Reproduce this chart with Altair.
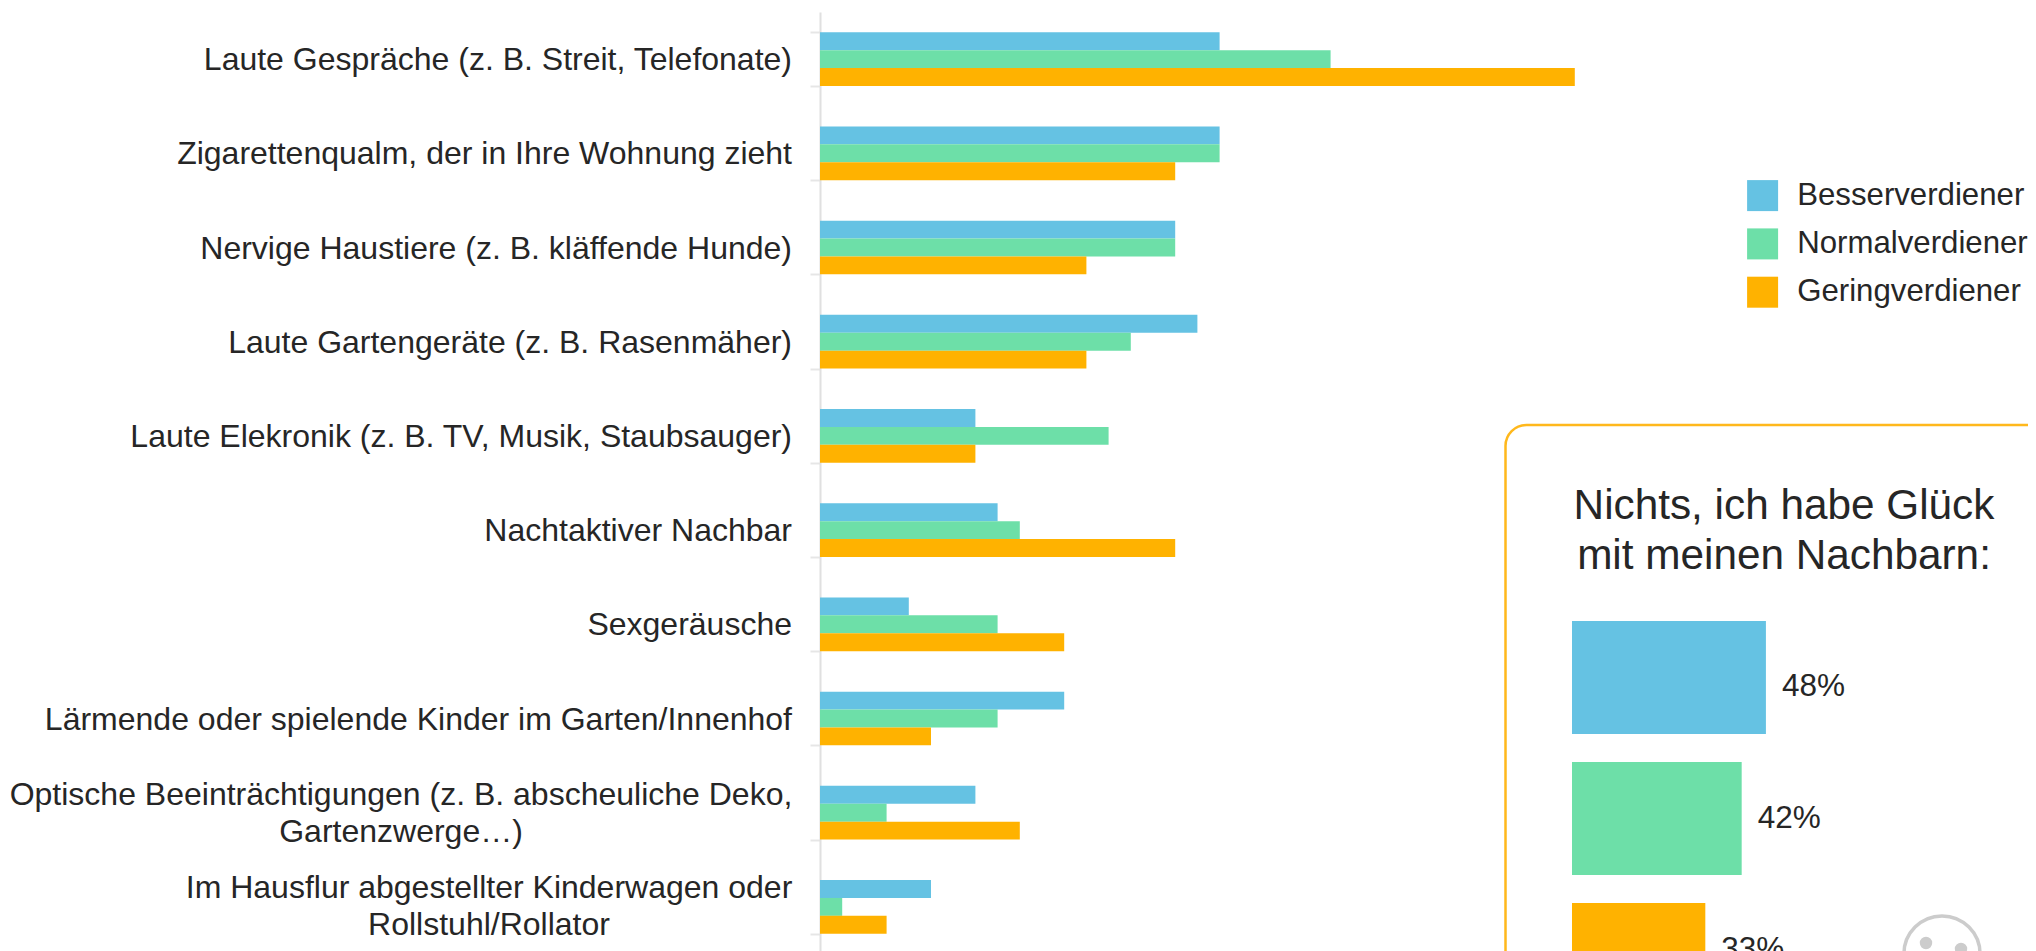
import altair as alt
import pandas as pd

categories = [
    "Laute Gespräche (z. B. Streit, Telefonate)",
    "Zigarettenqualm, der in Ihre Wohnung zieht",
    "Nervige Haustiere (z. B. kläffende Hunde)",
    "Laute Gartengeräte (z. B. Rasenmäher)",
    "Laute Elekronik (z. B. TV, Musik, Staubsauger)",
    "Nachtaktiver Nachbar",
    "Sexgeräusche",
    "Lärmende oder spielende Kinder im Garten/Innenhof",
    "Optische Beeinträchtigungen (z. B. abscheuliche Deko,|Gartenzwerge…)",
    "Im Hausflur abgestellter Kinderwagen oder|Rollstuhl/Rollator",
]
series = ["Besserverdiener", "Normalverdiener", "Geringverdiener"]
besser = [18, 18, 16, 17, 7, 8, 4, 11, 7, 5]
normal = [23, 18, 16, 14, 13, 9, 8, 8, 3, 1]
gering = [34, 16, 12, 12, 7, 16, 11, 5, 9, 3]
inset_values = [48, 42, 33]
inset_title = "Nichts, ich habe Glück|mit meinen Nachbarn:"
colors = ["#65C2E3", "#6DDFA8", "#FFB200"]

FONT = "Liberation Sans"
TEXT = "#262626"
FS = 32

rows = []
for s, vals in zip(series, [besser, normal, gering]):
    for c, v in zip(categories, vals):
        rows.append({"category": c, "series": s, "value": v})
df = pd.DataFrame(rows)
labels_df = pd.DataFrame({"category": categories})
inset_df = pd.DataFrame({"series": series, "value": inset_values,
                         "label": [f"{v}%" for v in inset_values]})

y_scale = alt.Scale(domain=categories, range=[0, 942], paddingInner=0.43, paddingOuter=0.215)
color_enc = alt.Color("series:N", scale=alt.Scale(domain=series, range=colors),
                      sort=series,
                      legend=alt.Legend(title=None, orient="none", legendX=927, legendY=168,
                                        padding=0, symbolType="square", symbolSize=961,
                                        symbolStrokeWidth=0, symbolOpacity=1, labelFont=FONT,
                                        labelFontSize=31.2, labelColor=TEXT, labelOffset=19,
                                        rowPadding=15.3, labelLimit=400, columnPadding=0))

bars = alt.Chart(df).mark_bar().encode(
    x=alt.X("value:Q", scale=alt.Scale(domain=[0, 60], range=[0, 1332]), axis=None),
    y=alt.Y("category:N", sort=categories, scale=y_scale, title=None,
            axis=alt.Axis(labels=False, tickBand="extent", tickSize=10, tickWidth=2,
                          tickColor="#E6E6E6", domainColor="#E0E0E0", domainWidth=2,
                          grid=False, title=None)),
    yOffset=alt.YOffset("series:N", sort=series, scale=alt.Scale(paddingInner=0, paddingOuter=0)),
    color=color_enc,
)


def label_layer(cats, dx, align, dy=0):
    return alt.Chart(labels_df[labels_df.category.isin(cats)]).mark_text(
        align=align, baseline="middle", dx=dx, dy=dy, font=FONT, fontSize=FS, color=TEXT,
        lineBreak="|", lineHeight=37,
    ).encode(
        x=alt.value(0),
        y=alt.Y("category:N", sort=categories, scale=y_scale, axis=None),
        text="category:N",
    )


labels_single = label_layer(categories[:8], -28, "right", 1)
labels_a = label_layer(categories[8:9], -419, "center", -18)
labels_b = label_layer(categories[9:10], -331, "center", -19)

panel = alt.Chart(pd.DataFrame({"a": [0]})).mark_rect(
    fill="white", stroke="#FFB81C", strokeWidth=2.5, cornerRadius=21,
).encode(x=alt.value(685.5), x2=alt.value(1400), y=alt.value(413), y2=alt.value(1200))

title_txt = alt.Chart(pd.DataFrame({"t": [inset_title]})).mark_text(
    align="center", baseline="alphabetic", font=FONT, fontSize=42.3, color=TEXT,
    lineBreak="|", lineHeight=50,
).encode(x=alt.value(964), y=alt.value(507.3), text="t:N")

inset_x = alt.Scale(domain=[0, 100], range=[752, 1156])
inset_y = alt.Scale(domain=series, range=[609, 1004], paddingInner=0.1986, paddingOuter=0)

inset_bars = alt.Chart(inset_df).mark_bar().encode(
    x=alt.X("value:Q", scale=inset_x, axis=None),
    y=alt.Y("series:N", sort=series, scale=inset_y, axis=None),
    color=alt.Color("series:N", legend=None, sort=series),
)
inset_text = alt.Chart(inset_df).mark_text(
    align="left", baseline="middle", dx=16, font=FONT, fontSize=31.5, color=TEXT,
).encode(
    x=alt.X("value:Q", scale=inset_x, axis=None),
    y=alt.Y("series:N", sort=series, scale=inset_y, axis=None),
    text="label:N",
)

face = alt.Chart(pd.DataFrame({"a": [0]})).mark_point(
    shape="circle", filled=False, stroke="#CCCCCC", strokeWidth=3.5, size=5809, opacity=1,
).encode(x=alt.value(1122), y=alt.value(942))
eye_l = alt.Chart(pd.DataFrame({"a": [0]})).mark_circle(color="#CCCCCC", size=154, opacity=1).encode(
    x=alt.value(1106), y=alt.value(931))
eye_r = alt.Chart(pd.DataFrame({"a": [0]})).mark_circle(color="#CCCCCC", size=154, opacity=1).encode(
    x=alt.value(1141), y=alt.value(937))

chart = alt.layer(
    bars, labels_single, labels_a, labels_b, panel, title_txt,
    inset_bars, inset_text, face, eye_l, eye_r,
).resolve_scale(x="independent", y="independent").properties(
    width=1208, height=1100,
    autosize=alt.AutoSizeParams(type="none"),
    padding={"left": 812, "top": 4, "right": 0, "bottom": 0},
    background="white",
).configure_view(stroke=None)

chart.save("out.html", embed_options={"renderer": "svg", "actions": False})
